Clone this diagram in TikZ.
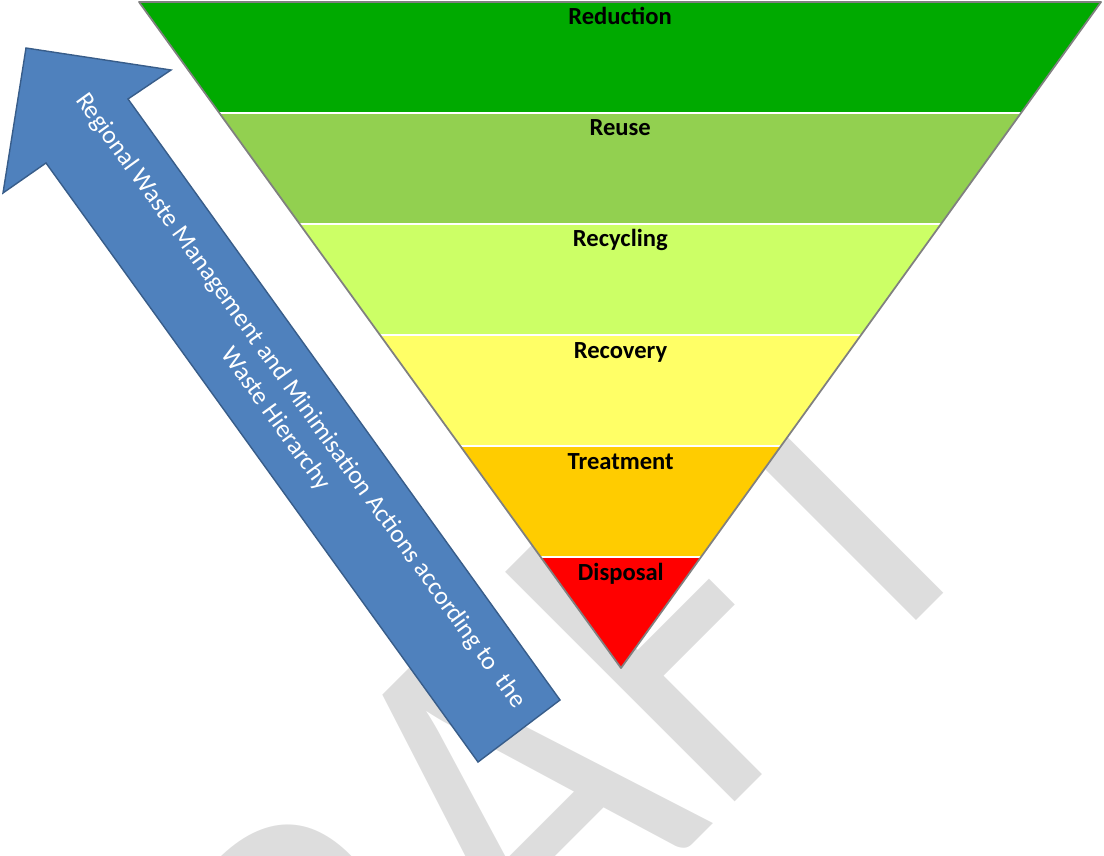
\documentclass[tikz,border=0pt]{standalone}
\usepackage{fontspec}
\setmainfont{Carlito}
\usetikzlibrary{calc}

\definecolor{reduction}{RGB}{0,170,0}
\definecolor{reuse}{RGB}{146,208,80}
\definecolor{recycling}{RGB}{204,255,102}
\definecolor{recovery}{RGB}{255,255,102}
\definecolor{treatment}{RGB}{255,204,0}
\definecolor{disposal}{RGB}{255,0,0}
\definecolor{arrowfill}{RGB}{79,129,189}
\definecolor{arrowline}{RGB}{56,93,138}
\definecolor{draftgray}{RGB}{221,221,221}

\tikzset{
  level/.style={font=\fontsize{14}{16}\selectfont\bfseries, anchor=base, inner sep=0pt},
  arrowlabel/.style={font=\fontsize{14.5}{17.5}\selectfont, text=white, align=center, inner sep=0pt, rotate=-54.2},
  watermark/.style={font=\fontsize{288}{288}\selectfont, text=draftgray, anchor=base, inner sep=0pt, rotate=45, xscale=0.855}
}

\begin{document}
\begin{tikzpicture}[x=0.02cm,y=-0.02cm]
  \useasboundingbox (0,0) rectangle (1104,855);
  \clip (0,0) rectangle (1104,855);
  % watermark behind everything
  \node[watermark] (draft) at (594,943) {DRAFT};

  % the inverted pyramid
  \coordinate (tl) at (139,2);
  \coordinate (tr) at (1101,2);
  \coordinate (apex) at (621,668);
  \foreach \i in {0,...,6} {
    \coordinate (L\i) at ($(tl)!\i/6!(apex)$);
    \coordinate (R\i) at ($(tr)!\i/6!(apex)$);
  }
  \foreach \i/\col/\lab in {0/reduction/Reduction,1/reuse/Reuse,2/recycling/Recycling,
                            3/recovery/Recovery,4/treatment/Treatment,5/disposal/Disposal} {
    \pgfmathtruncatemacro\j{\i+1}
    \fill[\col] (L\i) -- (R\i) -- (R\j) -- (L\j) -- cycle;
    \node[level] (\col) at ($(L\i)!0.5!(R\i) + (0,23)$) {\lab};
  }
  \foreach \i in {1,...,5}
    \draw[white, line width=1.5pt] (L\i) -- (R\i);
  \draw[gray, line width=1pt, line join=round] (tl) -- (tr) -- (apex) -- cycle;

  % the arrow
  \coordinate (tip) at (26,48);
  \coordinate (barbR) at (171,70);
  \coordinate (notchR) at (128,99);
  \coordinate (tailR) at (560,700);
  \coordinate (tailL) at (478,762);
  \coordinate (notchL) at (46,163);
  \coordinate (barbL) at (3,193);
  \draw[fill=arrowfill, draw=arrowline, line width=0.8pt, line join=miter]
    (tip) -- (barbR) -- (notchR) -- (tailR) -- (tailL) -- (notchL) -- (barbL) -- cycle;
  \node[arrowlabel] (actions) at (288,410)
    {Regional Waste Management and Minimisation Actions according to\ \ the\\Waste Hierarchy};
\end{tikzpicture}
\end{document}
